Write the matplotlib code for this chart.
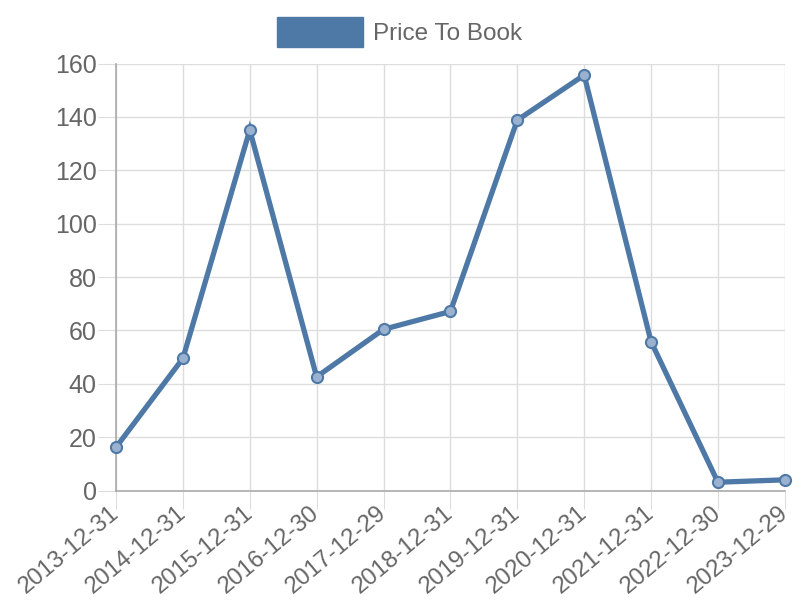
import matplotlib
matplotlib.use("Agg")
import matplotlib.pyplot as plt
from matplotlib.patches import Patch

plt.rcParams['font.family'] = ['Liberation Sans', 'DejaVu Sans']

dates = ["2013-12-31", "2014-12-31", "2015-12-31", "2016-12-30", "2017-12-29",
         "2018-12-31", "2019-12-31", "2020-12-31", "2021-12-31", "2022-12-30", "2023-12-29"]
price_to_book = [16.2, 49.5, 135.1, 42.6, 60.4, 67.1, 138.8, 155.7, 55.8, 3.1, 4.0]
y_ticks = [0, 20, 40, 60, 80, 100, 120, 140, 160]

color = "#4e79a7"
text_color = "#666666"

fig = plt.figure(figsize=(8, 6), dpi=100)
ax = fig.add_axes([0.145, 0.1825, 0.836, 0.7115])

x = list(range(len(dates)))
ax.plot(x, price_to_book, color=color, linewidth=3.8, marker='o', markersize=8,
        markerfacecolor="#9ab2cf", markeredgecolor=color, markeredgewidth=1.5,
        clip_on=False, zorder=3, solid_joinstyle='miter')

ax.set_xlim(0, len(dates) - 1)
ax.set_ylim(0, 160)
ax.set_yticks(y_ticks)
ax.set_yticklabels([str(v) for v in y_ticks], fontsize=18, color=text_color)
ax.set_xticks(x)
ax.set_xticklabels(dates, rotation=40, ha='right', va='center', rotation_mode='anchor',
                   fontsize=17.3, color=text_color)

ax.grid(True, color="#dddddd", linewidth=1)
ax.set_axisbelow(True)
ax.tick_params(axis='y', length=13, color="#dddddd", pad=1)
ax.tick_params(axis='x', length=13, color="#dddddd", pad=1)
for s in ['top', 'right']:
    ax.spines[s].set_visible(False)
for s in ['left', 'bottom']:
    ax.spines[s].set_color("#aaaaaa")
    ax.spines[s].set_linewidth(1.2)

handle = Patch(facecolor=color, edgecolor=color)
fig.legend(handles=[handle], labels=["Price To Book"], loc='upper center',
           bbox_to_anchor=(0.5, 1.0), frameon=False, fontsize=17.5,
           labelcolor=text_color, handlelength=3.5, handleheight=1.5,
           handletextpad=0.45, borderaxespad=0.3)

fig.savefig("out.png", dpi=100)
